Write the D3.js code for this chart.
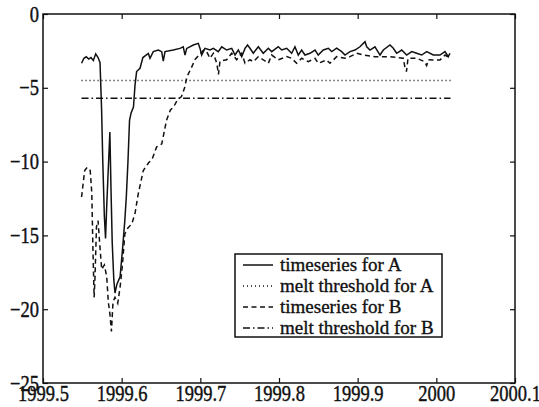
<!DOCTYPE html>
<html>
<head>
<meta charset="utf-8">
<script src="https://cdn.jsdelivr.net/npm/d3@7"></script>
<style>
  body { margin: 0; background: #fff; }
  svg { display: block; }
  text { font-family: "Liberation Serif", "Times New Roman", serif; fill: #111; stroke: #111; stroke-width: 0.35; }
</style>
</head>
<body>
<svg id="chart" width="539" height="407"></svg>
<script>
// timeseries for A (decimal year, value)
var yearsA = [1999.549, 1999.552, 1999.555, 1999.558, 1999.561, 1999.564, 1999.567, 1999.570, 1999.5725,
  1999.5745, 1999.576, 1999.578, 1999.5795, 1999.581, 1999.583, 1999.585, 1999.5865, 1999.588, 1999.590,
  1999.5915, 1999.594, 1999.598, 1999.601, 1999.604, 1999.606, 1999.608, 1999.610, 1999.612, 1999.615,
  1999.617, 1999.619, 1999.6233, 1999.627, 1999.6339, 1999.636, 1999.6402, 1999.6466, 1999.6509, 1999.6529,
  1999.6551, 1999.6656, 1999.6741, 1999.6783, 1999.6805, 1999.6827, 1999.6911, 1999.6974, 1999.6996,
  1999.7017, 1999.7059, 1999.7123, 1999.7165, 1999.7228, 1999.7272, 1999.7335, 1999.7399, 1999.7441,
  1999.7483, 1999.7526, 1999.7568, 1999.7600, 1999.7631, 1999.7673, 1999.7737, 1999.7800, 1999.7864,
  1999.7907, 1999.7991, 1999.8034, 1999.8098, 1999.8161, 1999.8203, 1999.8245, 1999.8288, 1999.8330,
  1999.8394, 1999.8458, 1999.8499, 1999.8563, 1999.8627, 1999.8670, 1999.8733, 1999.8797, 1999.8839,
  1999.8902, 1999.8966, 1999.9029, 1999.9093, 1999.9115, 1999.9157, 1999.9220, 1999.9284, 1999.9326,
  1999.9411, 1999.9453, 1999.9496, 1999.9560, 1999.9623, 1999.9687, 1999.9750, 1999.9814, 1999.9877,
  1999.9961, 2000.0046, 2000.0110, 2000.0152, 2000.0173];
var valuesA = [-3.34, -3.0, -2.9, -3.05, -2.95, -3.15, -2.7, -2.95, -3.3,
  -6.5, -10, -13.7, -15.2, -13, -10.5, -8.0, -12, -15.5, -18.0,
  -18.9, -18.3, -17.8, -16, -14, -12.3, -10, -7.2, -6.7, -6.3,
  -4.8, -3.9, -3.68, -2.95, -2.67, -3.0, -2.55, -2.44, -2.55, -3.2,
  -2.55, -2.44, -2.33, -2.22, -2.78, -2.33, -2.10, -1.99, -2.33,
  -2.78, -2.33, -2.44, -2.33, -2.55, -2.22, -2.44, -2.33, -2.78,
  -2.44, -2.89, -2.33, -2.10, -2.32, -2.66, -2.22, -2.66, -2.32,
  -2.55, -2.22, -2.44, -2.32, -2.66, -2.22, -2.78, -2.44, -2.78,
  -2.66, -2.44, -2.78, -2.44, -2.32, -2.55, -2.32, -2.55, -2.78,
  -2.55, -2.44, -2.22, -1.88, -2.22, -2.44, -2.22, -2.78, -2.44,
  -2.10, -2.32, -2.66, -2.44, -2.78, -2.55, -2.66, -2.78, -2.55,
  -2.78, -2.78, -2.55, -2.89, -2.66];

// timeseries for B
var yearsB = [1999.549, 1999.551, 1999.553, 1999.556, 1999.560, 1999.562, 1999.5635, 1999.565, 1999.566,
  1999.568, 1999.570, 1999.572, 1999.5746, 1999.578, 1999.581, 1999.583, 1999.585, 1999.587, 1999.589,
  1999.5915, 1999.595, 1999.598, 1999.601, 1999.604, 1999.608, 1999.613, 1999.617, 1999.621, 1999.6275,
  1999.634, 1999.639, 1999.6445, 1999.651, 1999.657, 1999.662, 1999.666, 1999.671, 1999.676, 1999.680,
  1999.683, 1999.689, 1999.693, 1999.6996, 1999.704, 1999.708, 1999.7123, 1999.7165, 1999.7210, 1999.7230,
  1999.7250, 1999.7335, 1999.7399, 1999.7462, 1999.7526, 1999.7568, 1999.7631, 1999.7673, 1999.7737,
  1999.7800, 1999.7864, 1999.7907, 1999.7991, 1999.8098, 1999.8161, 1999.8224, 1999.8288, 1999.8372,
  1999.8457, 1999.8499, 1999.8605, 1999.8648, 1999.8733, 1999.8839, 1999.8902, 1999.8987, 1999.9071,
  1999.9220, 1999.9411, 1999.9580, 1999.9600, 1999.9620, 1999.9640, 1999.9750, 1999.9850, 1999.9877,
  1999.9900, 1999.9961, 2000.0046, 2000.0110, 2000.0173];
var valuesB = [-12.4, -11.5, -10.6, -10.4, -10.6, -12.1, -16, -19.2, -18,
  -14.4, -14.0, -15.5, -17.3, -17.0, -17.8, -19.5, -20.3, -21.5, -19.5,
  -19.2, -19.6, -18.5, -17, -14.9, -14.5, -14.2, -13.5, -12.2, -10.6,
  -10.1, -9.8, -9.0, -8.8, -7.2, -6.5, -6.3, -5.8, -5.6, -5.0,
  -4.25, -3.6, -3.1, -2.7, -2.45, -2.55, -3.0, -2.67, -3.34, -4.1,
  -3.2, -3.1, -2.66, -3.1, -2.66, -3.34, -3.1, -3.23, -2.9,
  -3.1, -3.34, -2.78, -3.1, -2.89, -3.0, -3.34, -3.0, -3.23,
  -3.0, -3.34, -3.12, -3.34, -2.89, -3.0, -2.89, -2.66, -2.78,
  -2.89, -2.89, -3.0, -3.6, -3.9, -3.0, -3.0, -3.23, -3.5,
  -3.1, -3.12, -3.12, -2.78, -3.0];

// melt thresholds and their time span
var thresholdA = -4.5;
var thresholdB = -5.7;
var thresholdSpan = [1999.549, 2000.018];

var xTicks = [1999.5, 1999.6, 1999.7, 1999.8, 1999.9, 2000, 2000.1];
var yTicks = [0, -5, -10, -15, -20, -25];
var legendLabels = ["timeseries for A", "melt threshold for A", "timeseries for B", "melt threshold for B"];

var plotLeft = 43, plotTop = 14, plotRight = 515, plotBottom = 383;

var svg = d3.select("#chart");

var x = d3.scaleLinear().domain([1999.5, 2000.1]).range([plotLeft, plotRight]);
var y = d3.scaleLinear().domain([-25, 0]).range([plotBottom, plotTop]);

function pairs(xs, ys) {
  return xs.map(function (d, i) { return [d, ys[i]]; });
}

var line = d3.line()
  .x(function (d) { return x(d[0]); })
  .y(function (d) { return y(d[1]); });

var styles = [
  { dash: null },
  { dash: "1,3" },
  { dash: "5,3.5" },
  { dash: "7,3,1.5,3" }
];

var series = [
  pairs(yearsA, valuesA),
  pairs(thresholdSpan, [thresholdA, thresholdA]),
  pairs(yearsB, valuesB),
  pairs(thresholdSpan, [thresholdB, thresholdB])
];

svg.append("g").selectAll("path")
  .data(series)
  .join("path")
  .attr("d", line)
  .attr("fill", "none")
  .attr("stroke", "#111")
  .attr("stroke-width", 1.5)
  .attr("stroke-dasharray", function (d, i) { return styles[i].dash; });

// axes, MATLAB style: ticks inside on all four sides
function styleAxis(g) {
  g.select(".domain").remove();
  g.selectAll("line").attr("stroke", "#111").attr("stroke-width", 1.2);
  // the printed tick labels look a bit taller than wide
  g.selectAll("text").attr("font-size", 18.5).attr("fill", "#111").attr("transform", "scale(1,1.2)");
}

svg.append("g")
  .attr("transform", "translate(0," + plotBottom + ")")
  .call(d3.axisBottom(x).tickValues(xTicks).tickSizeInner(-5).tickSizeOuter(0).tickPadding(2)
    .tickFormat(d3.format("")))
  .call(styleAxis)
  .selectAll("text").attr("dy", "0.72em");

svg.append("g")
  .attr("transform", "translate(0," + plotTop + ")")
  .call(d3.axisTop(x).tickValues(xTicks).tickSizeInner(-5).tickSizeOuter(0).tickFormat(""))
  .call(styleAxis);

svg.append("g")
  .attr("transform", "translate(" + plotLeft + ",0)")
  .call(d3.axisLeft(y).tickValues(yTicks).tickSizeInner(-5).tickSizeOuter(0).tickPadding(4)
    .tickFormat(function (d) { return d < 0 ? "\u2212" + (-d) : d; }))
  .call(styleAxis);

svg.append("g")
  .attr("transform", "translate(" + plotRight + ",0)")
  .call(d3.axisRight(y).tickValues(yTicks).tickSizeInner(-5).tickSizeOuter(0).tickFormat(""))
  .call(styleAxis);

svg.append("rect")
  .attr("x", plotLeft).attr("y", plotTop)
  .attr("width", plotRight - plotLeft).attr("height", plotBottom - plotTop)
  .attr("fill", "none").attr("stroke", "#111").attr("stroke-width", 1.5);

// legend
var legend = svg.append("g").attr("transform", "translate(235,254)");
legend.append("rect")
  .attr("width", 207).attr("height", 83)
  .attr("fill", "#fff").attr("stroke", "#111").attr("stroke-width", 1.5);

var item = legend.selectAll("g.item")
  .data(legendLabels)
  .join("g")
  .attr("class", "item")
  .attr("transform", function (d, i) { return "translate(0," + (11 + i * 21) + ")"; });

item.append("line")
  .attr("x1", 8).attr("x2", 38)
  .attr("stroke", "#111").attr("stroke-width", 1.5)
  .attr("stroke-dasharray", function (d, i) { return styles[i].dash; });

item.append("text")
  .attr("x", 45).attr("dy", "0.33em")
  .attr("font-size", 19)
  .text(function (d) { return d; });
</script>
</body>
</html>
